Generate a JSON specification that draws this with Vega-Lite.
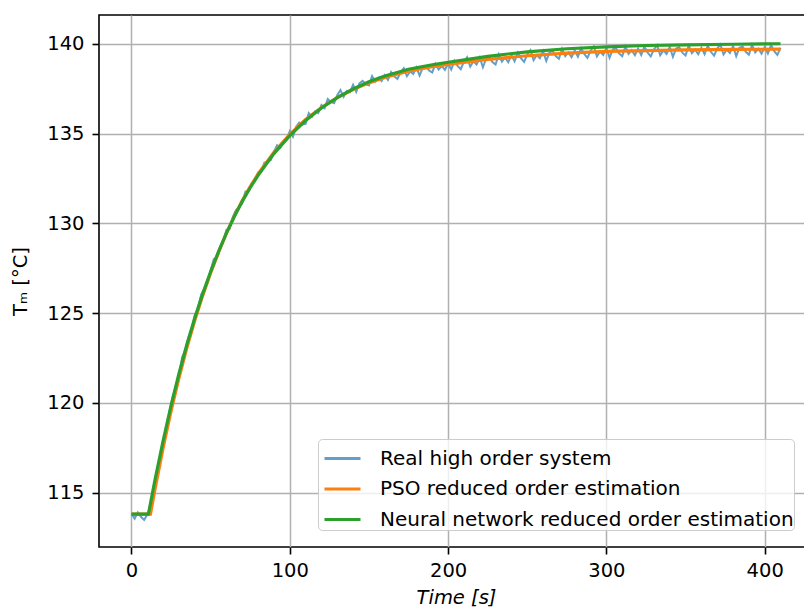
{
"$schema": "https://vega.github.io/schema/vega-lite/v6.json",
"width": 714, "height": 532,
"autosize": {"type": "none"},
"padding": {"left": 99, "top": 15, "right": 0, "bottom": 61},
"background": "white",
"config": {
  "font": "DejaVu Sans",
  "view": {"stroke": "#000000", "strokeWidth": 1.6},
  "axis": {"domain": false, "grid": true, "gridColor": "#b0b0b0", "gridWidth": 1.5, "tickColor": "#000000", "tickSize": 7, "tickWidth": 1.6, "labelFontSize": 19.5, "labelColor": "#000000", "labelFont": "DejaVu Sans", "titleFont": "DejaVu Sans", "titleFontSize": 19.5, "titleFontWeight": "normal", "titleColor": "#000000"},
  "legend": {"orient": "none", "legendX": 219, "legendY": 424, "fillColor": "rgba(255,255,255,0.8)", "strokeColor": "#cccccc", "cornerRadius": 4, "padding": 0, "symbolOffset": 5, "symbolType": "stroke", "symbolSize": 1296, "symbolStrokeWidth": 3, "labelFontSize": 20, "labelFont": "DejaVu Sans", "labelColor": "#000000", "labelOffset": 18, "rowPadding": 0.5, "labelLimit": 700, "title": null}
},
"datasets": {
"real": [
{"t":0,"v":113.82},{"t":2,"v":113.55},{"t":4,"v":113.9},{"t":6,"v":113.65},{"t":8,"v":113.48},{"t":10,"v":113.78},
{"t":12,"v":114.2},{"t":14,"v":114.71},{"t":16,"v":116.02},{"t":18,"v":116.8},{"t":20,"v":117.89},{"t":22,"v":118.4},{"t":24,"v":119.48},{"t":26,"v":120.32},{"t":28,"v":120.89},{"t":30,"v":121.49},
{"t":32,"v":122.53},{"t":34,"v":122.92},{"t":36,"v":123.64},{"t":38,"v":124.07},{"t":40,"v":124.88},{"t":42,"v":125.23},{"t":44,"v":126.03},{"t":46,"v":126.34},{"t":48,"v":126.68},{"t":50,"v":127.39},
{"t":52,"v":128.0},{"t":54,"v":128.11},{"t":56,"v":128.7},{"t":58,"v":129.0},{"t":60,"v":129.64},{"t":62,"v":129.7},{"t":64,"v":130.35},{"t":66,"v":130.74},{"t":68,"v":130.9},{"t":70,"v":131.12},
{"t":72,"v":131.77},{"t":74,"v":131.82},{"t":76,"v":132.24},{"t":78,"v":132.35},{"t":80,"v":132.83},{"t":82,"v":132.86},{"t":84,"v":133.38},{"t":86,"v":133.42},{"t":88,"v":133.52},{"t":90,"v":133.99},
{"t":92,"v":134.34},{"t":94,"v":134.21},{"t":96,"v":134.57},{"t":98,"v":134.65},{"t":100,"v":135.13},{"t":102,"v":134.82},{"t":104,"v":135.38},{"t":106,"v":135.61},{"t":108,"v":135.51},{"t":110,"v":135.54},
{"t":112,"v":136.14},{"t":114,"v":135.93},{"t":116,"v":136.24},{"t":118,"v":136.14},{"t":120,"v":136.59},{"t":122,"v":136.41},{"t":124,"v":136.92},{"t":126,"v":136.76},{"t":128,"v":136.69},{"t":130,"v":137.13},
{"t":132,"v":137.42},{"t":134,"v":137.04},{"t":136,"v":137.37},{"t":138,"v":137.3},{"t":140,"v":137.72},{"t":142,"v":137.32},{"t":144,"v":137.79},{"t":146,"v":137.93},{"t":148,"v":137.75},{"t":150,"v":137.68},
{"t":152,"v":138.19},{"t":154,"v":137.89},{"t":156,"v":138.11},{"t":158,"v":137.92},{"t":160,"v":138.25},{"t":162,"v":137.99},{"t":164,"v":138.42},{"t":166,"v":138.18},{"t":168,"v":138.04},{"t":170,"v":138.41},
{"t":172,"v":138.64},{"t":174,"v":138.19},{"t":176,"v":138.45},{"t":178,"v":138.32},{"t":180,"v":138.68},{"t":182,"v":138.23},{"t":184,"v":138.65},{"t":186,"v":138.74},{"t":188,"v":138.51},{"t":190,"v":138.4},
{"t":192,"v":138.88},{"t":194,"v":138.56},{"t":196,"v":138.76},{"t":198,"v":138.54},{"t":200,"v":138.9},{"t":202,"v":138.56},{"t":204,"v":139.05},{"t":206,"v":138.77},{"t":208,"v":138.58},{"t":210,"v":139.0},
{"t":212,"v":139.25},{"t":214,"v":138.72},{"t":216,"v":139.02},{"t":218,"v":138.84},{"t":220,"v":139.23},{"t":222,"v":138.69},{"t":224,"v":139.17},{"t":226,"v":139.26},{"t":228,"v":138.98},{"t":230,"v":138.84},
{"t":232,"v":139.41},{"t":234,"v":139.01},{"t":236,"v":139.23},{"t":238,"v":138.97},{"t":240,"v":139.36},{"t":242,"v":139.02},{"t":244,"v":139.5},{"t":246,"v":139.19},{"t":248,"v":138.99},{"t":250,"v":139.4},
{"t":252,"v":139.64},{"t":254,"v":139.09},{"t":256,"v":139.37},{"t":258,"v":139.19},{"t":260,"v":139.59},{"t":262,"v":139.04},{"t":264,"v":139.51},{"t":266,"v":139.6},{"t":268,"v":139.31},{"t":270,"v":139.16},
{"t":272,"v":139.72},{"t":274,"v":139.31},{"t":276,"v":139.52},{"t":278,"v":139.25},{"t":280,"v":139.63},{"t":282,"v":139.28},{"t":284,"v":139.75},{"t":286,"v":139.43},{"t":288,"v":139.21},{"t":290,"v":139.61},
{"t":292,"v":139.85},{"t":294,"v":139.29},{"t":296,"v":139.57},{"t":298,"v":139.38},{"t":300,"v":139.77},{"t":302,"v":139.22},{"t":304,"v":139.68},{"t":306,"v":139.76},{"t":308,"v":139.46},{"t":310,"v":139.3},
{"t":312,"v":139.85},{"t":314,"v":139.44},{"t":316,"v":139.64},{"t":318,"v":139.36},{"t":320,"v":139.73},{"t":322,"v":139.37},{"t":324,"v":139.84},{"t":326,"v":139.51},{"t":328,"v":139.29},{"t":330,"v":139.68},
{"t":332,"v":139.92},{"t":334,"v":139.36},{"t":336,"v":139.63},{"t":338,"v":139.43},{"t":340,"v":139.82},{"t":342,"v":139.27},{"t":344,"v":139.73},{"t":346,"v":139.8},{"t":348,"v":139.5},{"t":350,"v":139.35},
{"t":352,"v":139.9},{"t":354,"v":139.48},{"t":356,"v":139.68},{"t":358,"v":139.41},{"t":360,"v":139.78},{"t":362,"v":139.42},{"t":364,"v":139.88},{"t":366,"v":139.55},{"t":368,"v":139.34},{"t":370,"v":139.73},
{"t":372,"v":139.96},{"t":374,"v":139.4},{"t":376,"v":139.67},{"t":378,"v":139.48},{"t":380,"v":139.87},{"t":382,"v":139.31},{"t":384,"v":139.77},{"t":386,"v":139.84},{"t":388,"v":139.55},{"t":390,"v":139.39},
{"t":392,"v":139.94},{"t":394,"v":139.52},{"t":396,"v":139.72},{"t":398,"v":139.45},{"t":400,"v":139.82},{"t":402,"v":139.46},{"t":404,"v":139.92},{"t":406,"v":139.59},{"t":408,"v":139.38},{"t":410,"v":139.77}
],
"pso": [
{"t":0,"v":113.8},{"t":12,"v":113.8},{"t":15,"v":115.25},{"t":20,"v":117.49},{"t":25,"v":119.53},{"t":30,"v":121.38},{"t":35,"v":123.06},{"t":40,"v":124.58},{"t":45,"v":125.97},{"t":50,"v":127.23},
{"t":55,"v":128.37},{"t":60,"v":129.45},{"t":65,"v":130.4},{"t":70,"v":131.27},{"t":75,"v":132.05},{"t":80,"v":132.75},{"t":90,"v":133.96},{"t":100,"v":134.95},{"t":110,"v":135.78},{"t":120,"v":136.45},
{"t":130,"v":137.0},{"t":140,"v":137.45},{"t":150,"v":137.82},{"t":160,"v":138.12},{"t":175,"v":138.47},{"t":190,"v":138.72},{"t":200,"v":138.85},{"t":225,"v":139.13},{"t":250,"v":139.33},{"t":275,"v":139.48},
{"t":300,"v":139.57},{"t":325,"v":139.62},{"t":350,"v":139.66},{"t":380,"v":139.68},{"t":410,"v":139.7}
],
"nn": [
{"t":0,"v":113.8},{"t":10.7,"v":113.8},{"t":15,"v":115.77},{"t":20,"v":117.88},{"t":25,"v":119.85},{"t":30,"v":121.62},{"t":35,"v":123.25},{"t":40,"v":124.72},{"t":45,"v":126.07},{"t":50,"v":127.3},
{"t":55,"v":128.42},{"t":60,"v":129.45},{"t":65,"v":130.38},{"t":70,"v":131.22},{"t":75,"v":131.98},{"t":80,"v":132.67},{"t":90,"v":133.88},{"t":100,"v":134.88},{"t":110,"v":135.72},{"t":120,"v":136.42},
{"t":130,"v":137.0},{"t":140,"v":137.48},{"t":150,"v":137.88},{"t":160,"v":138.2},{"t":175,"v":138.58},{"t":190,"v":138.83},{"t":200,"v":138.97},{"t":225,"v":139.3},{"t":250,"v":139.55},{"t":275,"v":139.72},
{"t":300,"v":139.83},{"t":325,"v":139.9},{"t":350,"v":139.94},{"t":380,"v":139.97},{"t":410,"v":140.0}
]
},
"encoding": {
  "x": {"field": "t", "type": "quantitative", "scale": {"domain": [-20.5, 430.5], "nice": false, "zero": false},
        "axis": {"values": [0, 100, 200, 300, 400], "title": "Time [s]", "titleFontStyle": "italic", "labelPadding": 7, "titlePadding": 9}},
  "y": {"field": "v", "type": "quantitative", "scale": {"domain": [111.97, 141.6], "nice": false, "zero": false},
        "axis": {"values": [115, 120, 125, 130, 135, 140], "title": "Tₘ [°C]", "labelPadding": 8, "titlePadding": 16}}
},
"layer": [
  {"data": {"name": "real"}, "mark": {"type": "line", "strokeWidth": 2, "clip": true},
   "encoding": {"color": {"datum": "Real high order system", "type": "nominal",
     "scale": {"domain": ["Real high order system", "PSO reduced order estimation", "Neural network reduced order estimation"], "range": ["#62a0cb", "#ff7f0e", "#2ca02c"]}}}},
  {"data": {"name": "pso"}, "mark": {"type": "line", "strokeWidth": 3.2, "clip": true},
   "encoding": {"color": {"datum": "PSO reduced order estimation", "type": "nominal"}}},
  {"data": {"name": "nn"}, "mark": {"type": "line", "strokeWidth": 3.2, "clip": true},
   "encoding": {"color": {"datum": "Neural network reduced order estimation", "type": "nominal"}}}
]
}
